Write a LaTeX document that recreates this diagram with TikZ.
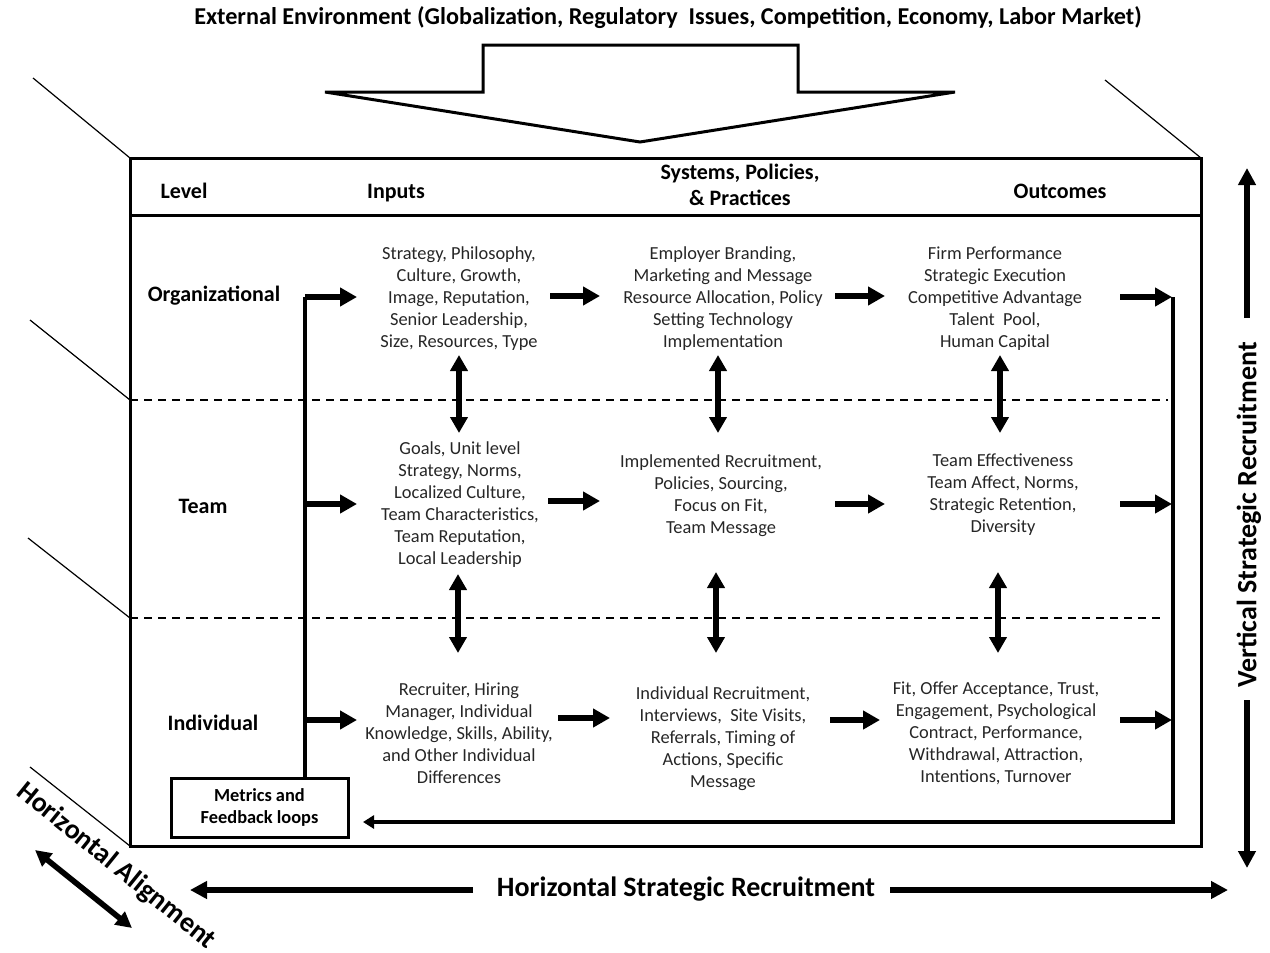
\documentclass[tikz,border=0pt]{standalone}
\usepackage{fontspec}
\setmainfont{Carlito}
\usetikzlibrary{arrows.meta}

\begin{document}
\begin{tikzpicture}[x=0.5pt,y=-0.5pt,
  body/.style={align=center,font=\fontsize{9.2}{11}\selectfont,text=black!85,inner sep=0pt},
  head/.style={align=center,font=\fontsize{11}{13}\selectfont\bfseries,inner sep=0pt},
  biglabel/.style={font=\fontsize{14}{16}\selectfont\bfseries,inner sep=0pt},
  frame/.style={line width=1.5pt},
  slant/.style={line width=0.6pt},
  flow/.style={line width=3pt,-{Triangle[length=8.5pt,width=9pt]}},
  link/.style={line width=3pt,{Triangle[length=8pt,width=8.5pt]}-{Triangle[length=8pt,width=8.5pt]}},
  loopline/.style={line width=1.8pt,line join=miter},
  axis/.style={line width=3pt,-{Triangle[length=8.5pt,width=8.5pt]}},
  divider/.style={line width=0.9pt,dash pattern=on 4pt off 3pt},
]
\useasboundingbox (0,0) rectangle (1270,953);

% external environment and its arrow
\node[head,font=\fontsize{12.1}{14}\selectfont\bfseries] (env) at (668,18) {External Environment (Globalization, Regulatory\ \ Issues, Competition, Economy, Labor Market)};
\draw[line width=1.5pt,fill=white,line join=miter]
  (325,92) -- (483,92) -- (483,45) -- (798,45) -- (798,92) -- (955,92) -- (640,142) -- cycle;

% perspective slants
\draw[slant] (33,78) -- (130,158);
\draw[slant] (1105,80) -- (1201,158);
\draw[slant] (30,320) -- (130,400);
\draw[slant] (28,538) -- (130,618);
\draw[slant] (30,767) -- (130,846);

% main frame and header band
\draw[frame] (130,158) rectangle (1201,846);
\draw[frame] (130,215) -- (1201,215);

% level separators
\draw[divider] (130,400) -- (1168,400);
\draw[divider] (130,618) -- (1160,618);

% header
\node[head] (hLevel) at (184,191) {Level};
\node[head] (hInputs) at (396,193) {Inputs};
\node[head] (hSys) at (740,185) {Systems, Policies,\\\& Practices};
\node[head] (hOut) at (1060,191) {Outcomes};

% row labels
\node[head] (rOrg) at (214,296) {Organizational};
\node[head] (rTeam) at (203,506) {Team};
\node[head] (rInd) at (213,723) {Individual};

% organizational row
\node[body] (oIn) at (459,299) {Strategy, Philosophy,\\Culture, Growth,\\Image, Reputation,\\Senior Leadership,\\Size, Resources, Type};
\node[body] (oSys) at (723,299) {Employer Branding,\\Marketing and Message\\Resource Allocation,\ Policy\\Setting Technology\\Implementation};
\node[body] (oOut) at (995,299) {Firm Performance\\Strategic Execution\\Competitive\ Advantage\\Talent\ \ Pool,\\Human Capital};

% team row
\node[body] (tIn) at (460,505) {Goals, Unit level\\Strategy, Norms,\\Localized Culture,\\Team Characteristics,\\Team Reputation,\\Local Leadership};
\node[body] (tSys) at (721,496) {Implemented Recruitment,\\Policies, Sourcing,\\Focus on Fit,\\Team Message};
\node[body] (tOut) at (1003,495) {Team Effectiveness\\Team Affect, Norms,\\Strategic Retention,\\Diversity};

% individual row
\node[body] (iIn) at (459,733) {Recruiter, Hiring\\Manager, Individual\\Knowledge, Skills, Ability,\\and Other Individual\\Differences};
\node[body] (iSys) at (723,739) {Individual Recruitment,\\Interviews,\ \ Site Visits,\\Referrals, Timing of\\Actions, Specific\\Message};
\node[body] (iOut) at (996,733) {Fit, Offer Acceptance, Trust,\\Engagement, Psychological\\Contract, Performance,\\Withdrawal, Attraction,\\Intentions, Turnover};

% metrics box
\node[draw,line width=1.5pt,minimum width=88.5pt,minimum height=29.5pt,align=center,
      font=\fontsize{9.2}{11}\selectfont\bfseries,inner sep=0pt] (metrics) at (259.5,807.5) {\raisebox{-1pt}{\parbox{80pt}{\centering Metrics and\\Feedback loops}}};

% anchor points for the flow arrows
\coordinate (Lo) at (305,297);
\coordinate (Lt) at (305,504);
\coordinate (Li) at (305,720);
\coordinate (oInE) at (357,297);
\coordinate (tInE) at (357,504);
\coordinate (iInE) at (357,720);

\coordinate (oA1) at (550,296); \coordinate (oA2) at (600,296);
\coordinate (oB1) at (835,296); \coordinate (oB2) at (885,296);
\coordinate (tA1) at (548,501); \coordinate (tA2) at (600,501);
\coordinate (tB1) at (835,504); \coordinate (tB2) at (885,504);
\coordinate (iA1) at (558,718); \coordinate (iA2) at (610,718);
\coordinate (iB1) at (830,720); \coordinate (iB2) at (880,720);

\coordinate (oC1) at (1120,297); \coordinate (Ro) at (1172,297);
\coordinate (tC1) at (1120,504); \coordinate (Rt) at (1172,504);
\coordinate (iC1) at (1120,720); \coordinate (Ri) at (1172,720);
\coordinate (Rb) at (1173,822);
\coordinate (Fend) at (363,822);

% feedback into inputs
\draw[loopline] (metrics.north -| Lo) -- (Lo);
\draw[flow] (Lo) -- (oInE);
\draw[flow] (Lt) -- (tInE);
\draw[flow] (Li) -- (iInE);

% flows across columns
\draw[flow] (oA1) -- (oA2);
\draw[flow] (oB1) -- (oB2);
\draw[flow] (tA1) -- (tA2);
\draw[flow] (tB1) -- (tB2);
\draw[flow] (iA1) -- (iA2);
\draw[flow] (iB1) -- (iB2);

% outcomes into the feedback loop
\draw[flow] (oC1) -- (Ro);
\draw[flow] (tC1) -- (Rt);
\draw[flow] (iC1) -- (Ri);
\draw[loopline,-{Triangle[length=5.5pt,width=6.5pt]}] (Ro -| Rb) -- (Rb) -- (Fend);

% links between levels
\coordinate (v1a) at (459,355); \coordinate (v1b) at (459,433);
\coordinate (v2a) at (718,355); \coordinate (v2b) at (718,433);
\coordinate (v3a) at (1000,355); \coordinate (v3b) at (1000,433);
\coordinate (v4a) at (458,574); \coordinate (v4b) at (458,653);
\coordinate (v5a) at (716,572); \coordinate (v5b) at (716,653);
\coordinate (v6a) at (998,572); \coordinate (v6b) at (998,653);
\draw[link] (v1a) -- (v1b);
\draw[link] (v2a) -- (v2b);
\draw[link] (v3a) -- (v3b);
\draw[link] (v4a) -- (v4b);
\draw[link] (v5a) -- (v5b);
\draw[link] (v6a) -- (v6b);

% horizontal strategic recruitment
\node[biglabel] (hsr) at (686,889) {Horizontal Strategic Recruitment};
\coordinate (hsrL) at (190,890);
\coordinate (hsrR) at (1228,890);
\coordinate (hsrLs) at (473,890);
\coordinate (hsrRs) at (890,890);
\draw[axis] (hsrLs) -- (hsrL);
\draw[axis] (hsrRs) -- (hsrR);

% vertical strategic recruitment
\node[biglabel,rotate=90] (vsr) at (1249,515) {Vertical Strategic Recruitment};
\coordinate (vsrT) at (1247,168);
\coordinate (vsrB) at (1247,868);
\coordinate (vsrTs) at (1247,318);
\coordinate (vsrBs) at (1247,700);
\draw[axis] (vsrTs) -- (vsrT);
\draw[axis] (vsrBs) -- (vsrB);

% horizontal alignment
\node[biglabel,rotate=-39] (ha) at (116,866) {Horizontal Alignment};
\coordinate (haA) at (35,850);
\coordinate (haB) at (132,928);
\draw[line width=2.8pt,{Triangle[length=8pt,width=8pt]}-{Triangle[length=8pt,width=8pt]}] (haA) -- (haB);
\end{tikzpicture}
\end{document}
